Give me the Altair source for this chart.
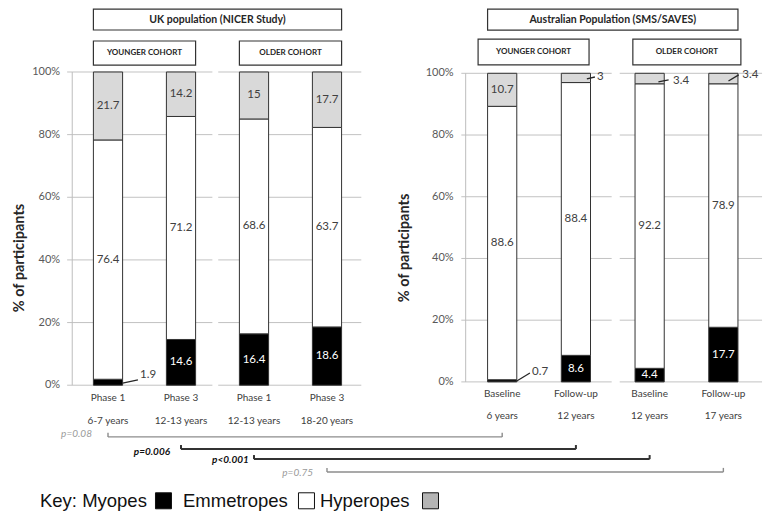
import altair as alt
import pandas as pd

# ---------------- data ----------------
classes = ["Myopes", "Emmetropes", "Hyperopes"]

uk_phase = ["Phase 1", "Phase 3", "Phase 1", "Phase 3"]
uk_age = ["6-7 years", "12-13 years", "12-13 years", "18-20 years"]
uk_myopes = [1.9, 14.6, 16.4, 18.6]
uk_emmetropes = [76.4, 71.2, 68.6, 63.7]
uk_hyperopes = [21.7, 14.2, 15.0, 17.7]

au_phase = ["Baseline", "Follow-up", "Baseline", "Follow-up"]
au_age = ["6 years", "12 years", "12 years", "17 years"]
au_myopes = [0.7, 8.6, 4.4, 17.7]
au_emmetropes = [88.6, 88.4, 92.2, 78.9]
au_hyperopes = [10.7, 3.0, 3.4, 3.4]

y_ticks = [0, 20, 40, 60, 80, 100]
y_title = "% of participants"
panel_titles = {"uk": "UK population (NICER Study)", "au": "Australian Population (SMS/SAVES)"}
cohort_titles = ["YOUNGER COHORT", "OLDER COHORT"]

p_text = ["p=0.08", "p=0.006", "p<0.001", "p=0.75"]
p_bold = [False, True, True, False]

key_text = ["Key: Myopes", "Emmetropes", "Hyperopes"]

# ---------------- layout / style ----------------
PAD_L = 64
W, H = 701, 506
X_DOM = [-0.4932, 9.11]
Y_DOM = {"uk": [-41.12, 120.43], "au": [-42.81, 121.16]}
START = {"uk": 0.0, "au": 5.4}
STEP = {"uk": 1.0, "au": 1.01}
HALF = 0.2
FILLS = ["#000000", "#ffffff", "#d9d9d9"]
FONT = "Lato"
TXT = "#404040"

GRID = {"uk": [(-0.56, 1.43), (1.51, 3.47)], "au": [(4.84, 6.90), (7.01, 8.96)]}
AXIS_X = {"uk": -0.49, "au": 4.9}
LABEL_GAP = 0.165
TITLE_POS = {"uk": (-1.205, 40.6), "au": (4.07, 43.4)}
CAT_Y = {"uk": (-4.1, -11.4), "au": (-3.9, -11.0)}
HEAD = {
    "uk": dict(ty=(113.4, 120.1), cy=(102.2, 109.9), tpad=(0.2, 0.2), cpad=[(0.2, 0.2), (0.2, 0.2)]),
    "au": dict(ty=(114.0, 120.8), cy=(102.7, 111.1), tpad=(0.2, 0.2), cpad=[(0.33, 0.18), (0.23, 0.24)]),
}
LEADERS = {
    ("uk", 0, "Myopes"): (0.2, 0.41, 0.44, -0.25, 0.75, 2.35),
    ("au", 0, "Myopes"): (0.2, 0.38, 0.41, -0.05, 2.55, 2.85),
    ("au", 1, "Hyperopes"): (0.15, 0.26, 0.29, -0.3, 0.3, 0.3),
    ("au", 2, "Hyperopes"): (0.12, 0.26, 0.32, -1.1, -0.4, -0.8),
    ("au", 3, "Hyperopes"): (0.07, 0.21, 0.26, -0.8, 1.2, 1.0),
}
BR_Y = [-16.5, -20.4, -23.6, -27.7]
BR_TICK = 1.3
BR_COL = ["#8c8c8c", "#333333", "#333333", "#8c8c8c"]
BR_W = [1.4, 2.0, 2.0, 1.4]
P_DX = [-0.22, -0.15, -0.07, -0.19]
P_Y = [-15.6, -21.3, -23.9, -28.0]
KEY_Y = -36.9
KEY_TX = [-0.932, 1.027, 2.904]
KEY_SQ = [0.760, 2.719, 4.418]
KEY_FILL = ["#000000", "#ffffff", "#b4b4b4"]

XS = alt.Scale(domain=X_DOM, nice=False, zero=False)


def YS(p):
    return alt.Scale(domain=Y_DOM[p], nice=False, zero=False)


def centres(p):
    return [START[p] + i * STEP[p] for i in range(4)]


def Xq(f):
    return alt.X(f"{f}:Q", scale=XS, axis=None)


def Yq(f, p):
    return alt.Y(f"{f}:Q", scale=YS(p), axis=None)


def panel_layers(p, phase, age, my, em, hy):
    cs = centres(p)
    rows = []
    for i in range(4):
        base = 0.0
        for cls, v in zip(classes, [my[i], em[i], hy[i]]):
            rows.append(dict(bar=i, cls=cls, v=v, x=cs[i], xl=cs[i] - HALF, xr=cs[i] + HALF,
                             y0=base, y1=base + v, mid=base + v / 2, label=f"{v:g}",
                             tc="#ffffff" if cls == "Myopes" else TXT))
            base += v
    seg = pd.DataFrame(rows)

    grid = pd.DataFrame([dict(x0=a, x1=b, y=g) for (a, b) in GRID[p] for g in y_ticks])
    grid_l = alt.Chart(grid).mark_rule(color="#c2c2c2", strokeWidth=1).encode(
        x=Xq("x0"), x2="x1:Q", y=Yq("y", p))
    axis_line = alt.Chart(pd.DataFrame([dict(x=AXIS_X[p], y0=0, y1=100)])).mark_rule(
        color="#bdbdbd", strokeWidth=1).encode(x=Xq("x"), y=Yq("y0", p), y2="y1:Q")
    tdf = pd.DataFrame([dict(x=AXIS_X[p] - LABEL_GAP, y=t, t=f"{t}%") for t in y_ticks])
    tick_l = alt.Chart(tdf).mark_text(font=FONT, fontSize=11, color="#595959", align="right").encode(
        x=Xq("x"), y=Yq("y", p), text="t:N")
    ttl = pd.DataFrame([dict(x=TITLE_POS[p][0], y=TITLE_POS[p][1], t=y_title)])
    title_l = alt.Chart(ttl).mark_text(font=FONT, fontSize=14.5, fontWeight="bold", color="#262626",
                                       angle=270).encode(x=Xq("x"), y=Yq("y", p), text="t:N")

    bars = alt.Chart(seg).mark_rect(stroke="#333333", strokeWidth=1).encode(
        x=Xq("xl"), x2="xr:Q", y=Yq("y0", p), y2="y1:Q",
        fill=alt.Fill("cls:N", scale=alt.Scale(domain=classes, range=FILLS), legend=None))

    inside = alt.Chart(seg[seg.v >= 4]).mark_text(font=FONT, fontSize=11.5).encode(
        x=Xq("x"), y=Yq("mid", p), text="label:N", color=alt.Color("tc:N", scale=None))

    lrows = []
    for (pp, b, cls), (x0, x1, lx, y0, y1, ly) in LEADERS.items():
        if pp != p:
            continue
        r = seg[(seg.bar == b) & (seg.cls == cls)].iloc[0]
        lrows.append(dict(x0=r.x + x0, x1=r.x + x1, lx=r.x + lx, y0=r.mid + y0, y1=r.mid + y1,
                          ly=r.mid + ly, label=r.label))
    ldf = pd.DataFrame(lrows)
    leaders = alt.Chart(ldf).mark_rule(color="#262626", strokeWidth=1.3).encode(
        x=Xq("x0"), x2="x1:Q", y=Yq("y0", p), y2="y1:Q")
    outside = alt.Chart(ldf).mark_text(font=FONT, fontSize=11.5, color=TXT, align="left").encode(
        x=Xq("lx"), y=Yq("ly", p), text="label:N")

    cats = pd.DataFrame([dict(x=cs[i], y=CAT_Y[p][0], t=phase[i]) for i in range(4)] +
                        [dict(x=cs[i], y=CAT_Y[p][1], t=age[i]) for i in range(4)])
    cat_l = alt.Chart(cats).mark_text(font=FONT, fontSize=10, color=TXT).encode(
        x=Xq("x"), y=Yq("y", p), text="t:N")

    h = HEAD[p]
    boxes = [dict(x0=cs[0] - h["tpad"][0], x1=cs[3] + h["tpad"][1], y0=h["ty"][0], y1=h["ty"][1],
                  t=panel_titles[p], fs=10.5)]
    for k in range(2):
        a, b = h["cpad"][k]
        boxes.append(dict(x0=cs[2 * k] - a, x1=cs[2 * k + 1] + b, y0=h["cy"][0], y1=h["cy"][1],
                          t=cohort_titles[k], fs=8))
    bdf = pd.DataFrame(boxes)
    bdf["xm"] = (bdf.x0 + bdf.x1) / 2
    bdf["ym"] = (bdf.y0 + bdf.y1) / 2
    box_l = alt.Chart(bdf).mark_rect(fill="#ffffff", stroke="#333333", strokeWidth=1.2).encode(
        x=Xq("x0"), x2="x1:Q", y=Yq("y0", p), y2="y1:Q")
    box_t = alt.Chart(bdf).mark_text(font=FONT, fontWeight="bold", color="#262626").encode(
        x=Xq("xm"), y=Yq("ym", p), text="t:N", size=alt.Size("fs:Q", scale=None))

    return [grid_l, axis_line, tick_l, title_l, bars, inside, leaders, outside, cat_l, box_l, box_t]


uk_layers = panel_layers("uk", uk_phase, uk_age, uk_myopes, uk_emmetropes, uk_hyperopes)
au_layers = panel_layers("au", au_phase, au_age, au_myopes, au_emmetropes, au_hyperopes)

ukc, auc = centres("uk"), centres("au")
br = pd.DataFrame([dict(i=i, x0=ukc[i], x1=auc[i], y=BR_Y[i], yt=BR_Y[i] + BR_TICK,
                        col=BR_COL[i], w=BR_W[i]) for i in range(4)])
br_h = alt.Chart(br).mark_rule().encode(
    x=Xq("x0"), x2="x1:Q", y=Yq("y", "uk"),
    color=alt.Color("col:N", scale=None), strokeWidth=alt.StrokeWidth("w:Q", scale=None))
ticks = pd.concat([br.assign(xt=br.x0), br.assign(xt=br.x1)])
br_t = alt.Chart(ticks).mark_rule().encode(
    x=Xq("xt"), y=Yq("y", "uk"), y2="yt:Q",
    color=alt.Color("col:N", scale=None), strokeWidth=alt.StrokeWidth("w:Q", scale=None))
pdf = pd.DataFrame([dict(x=ukc[i] + P_DX[i], y=P_Y[i], t=p_text[i]) for i in range(4)])
p_norm = alt.Chart(pdf[[not b for b in p_bold]]).mark_text(
    font=FONT, fontSize=10, fontStyle="italic", color="#9a9a9a", align="right").encode(
    x=Xq("x"), y=Yq("y", "uk"), text="t:N")
p_sig = alt.Chart(pdf[p_bold]).mark_text(
    font=FONT, fontSize=10, fontStyle="italic", fontWeight="bold", color="#111111", align="right").encode(
    x=Xq("x"), y=Yq("y", "uk"), text="t:N")

kdf = pd.DataFrame([dict(x=KEY_TX[i], y=KEY_Y, t=key_text[i]) for i in range(3)])
key_t = alt.Chart(kdf).mark_text(font="Liberation Sans", fontSize=18.5, color="#111111", align="left").encode(
    x=Xq("x"), y=Yq("y", "uk"), text="t:N")
sdf = pd.DataFrame([dict(x=KEY_SQ[i], y=KEY_Y, f=KEY_FILL[i]) for i in range(3)])
key_s = alt.Chart(sdf).mark_point(shape="square", size=256, filled=True, stroke="#111111",
                                  strokeWidth=1, opacity=1).encode(
    x=Xq("x"), y=Yq("y", "uk"), fill=alt.Fill("f:N", scale=None))

uk_group = alt.layer(*uk_layers, br_h, br_t, p_norm, p_sig, key_t, key_s)
au_group = alt.layer(*au_layers)

chart = alt.layer(uk_group, au_group).resolve_scale(y="independent").properties(
    width=W, height=H, padding={"left": PAD_L, "top": 0, "right": 0, "bottom": 0},
    autosize=alt.AutoSizeParams(type="none"),
    background="#ffffff",
).configure_view(strokeWidth=0)

chart.save("out.html", embed_options={"renderer": "svg", "actions": False})
